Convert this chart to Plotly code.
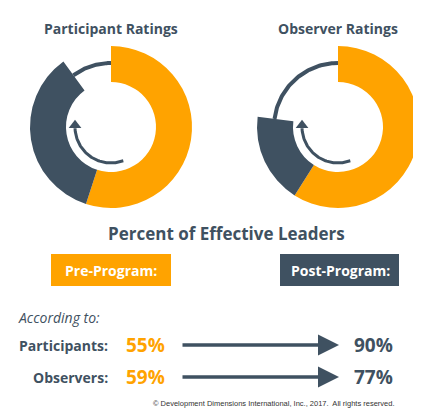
import numpy as np
import plotly.graph_objects as go

groups = ["Participants", "Observers"]
panel_titles = ["Participant Ratings", "Observer Ratings"]
pre = [55, 59]
post = [90, 77]

ORANGE = "#FFA300"
DARK = "#3F5161"
W, H = 421, 408
FONT = "Open Sans, sans-serif"

fig = go.Figure()

centers = [(103, 119), (330, 119)]
R_OUT, R_IN, R_THIN, R_ARR = 81, 45, 64, 36

for (cx, cy), p0, p1, title in zip(centers, pre, post, panel_titles):
    fig.add_trace(go.Pie(
        values=[p0, p1 - p0, 100 - p1], sort=False, direction="clockwise", rotation=0,
        hole=R_IN / R_OUT, marker=dict(colors=[ORANGE, DARK, "rgba(0,0,0,0)"]),
        textinfo="none", hoverinfo="skip", showlegend=False,
        domain=dict(x=[(cx - R_OUT) / W, (cx + R_OUT) / W],
                    y=[1 - (cy + R_OUT) / H, 1 - (cy - R_OUT) / H])))
    # thin arc closing the ring from post value to 100%
    th = np.radians(np.linspace(p1 * 3.6, 360, 60))
    fig.add_trace(go.Scatter(x=cx + R_THIN * np.sin(th), y=cy - R_THIN * np.cos(th),
                             mode="lines", line=dict(color=DARK, width=4),
                             hoverinfo="skip", showlegend=False))
    # inner curved arrow
    th = np.radians(np.linspace(160, 268, 60))
    ax_, ay_ = cx + R_ARR * np.sin(th), cy - R_ARR * np.cos(th)
    fig.add_trace(go.Scatter(x=ax_, y=ay_, mode="lines", line=dict(color=DARK, width=3),
                             hoverinfo="skip", showlegend=False))
    fig.add_trace(go.Scatter(x=[ax_[-1]], y=[ay_[-1] - 3], mode="markers",
                             marker=dict(symbol="triangle-up", size=11, color=DARK),
                             hoverinfo="skip", showlegend=False))
    fig.add_annotation(x=cx, y=20, xref="x", yref="y", text="<b>%s</b>" % title,
                       showarrow=False, font=dict(size=14, color=DARK, family=FONT))

fig.add_annotation(x=218, y=225, xref="x", yref="y", text="<b>Percent of Effective Leaders</b>",
                   showarrow=False, font=dict(size=17, color=DARK, family=FONT))

fig.add_shape(type="rect", x0=43, x1=163, y0=246, y1=278, xref="x", yref="y",
              fillcolor=ORANGE, line_width=0)
fig.add_shape(type="rect", x0=272, x1=391, y0=246, y1=278, xref="x", yref="y",
              fillcolor=DARK, line_width=0)
fig.add_annotation(x=103, y=262, xref="x", yref="y", text="<b>Pre-Program:</b>",
                   showarrow=False, font=dict(size=14, color="white", family=FONT))
fig.add_annotation(x=332, y=262, xref="x", yref="y", text="<b>Post-Program:</b>",
                   showarrow=False, font=dict(size=14, color="white", family=FONT))

fig.add_annotation(x=8, y=309, xref="x", yref="y", xanchor="left", text="<i>According to:</i>",
                   showarrow=False, font=dict(size=14, color=DARK, family=FONT))

for i, (g, a, b) in enumerate(zip(groups, pre, post)):
    y = 337 + 32 * i
    fig.add_annotation(x=102, y=y, xref="x", yref="y", xanchor="right", text="<b>%s:</b>" % g,
                       showarrow=False, font=dict(size=14, color=DARK, family=FONT))
    fig.add_annotation(x=116, y=y, xref="x", yref="y", xanchor="left", text="<b>%d%%</b>" % a,
                       showarrow=False, font=dict(size=19, color=ORANGE, family=FONT))
    fig.add_annotation(x=387, y=y, xref="x", yref="y", xanchor="right", text="<b>%d%%</b>" % b,
                       showarrow=False, font=dict(size=19, color=DARK, family=FONT))
    fig.add_annotation(x=331, y=y, ax=173, ay=y, xref="x", yref="y", axref="x", ayref="y",
                       text="", showarrow=True, arrowhead=2, arrowsize=1.2, arrowwidth=3.5,
                       arrowcolor=DARK)

fig.add_annotation(x=388, y=395, xref="x", yref="y", xanchor="right",
                   text="© Development Dimensions International, Inc., 2017.  All rights reserved.",
                   showarrow=False, font=dict(size=7.5, color="#333", family="Liberation Sans"))

fig.update_layout(
    width=W, height=H, margin=dict(l=0, r=0, t=0, b=0),
    paper_bgcolor="white", plot_bgcolor="rgba(0,0,0,0)",
    font=dict(family=FONT),
    xaxis=dict(range=[0, W], visible=False, fixedrange=True),
    yaxis=dict(range=[H, 0], visible=False, fixedrange=True),
)
fig.write_html("out.html")
